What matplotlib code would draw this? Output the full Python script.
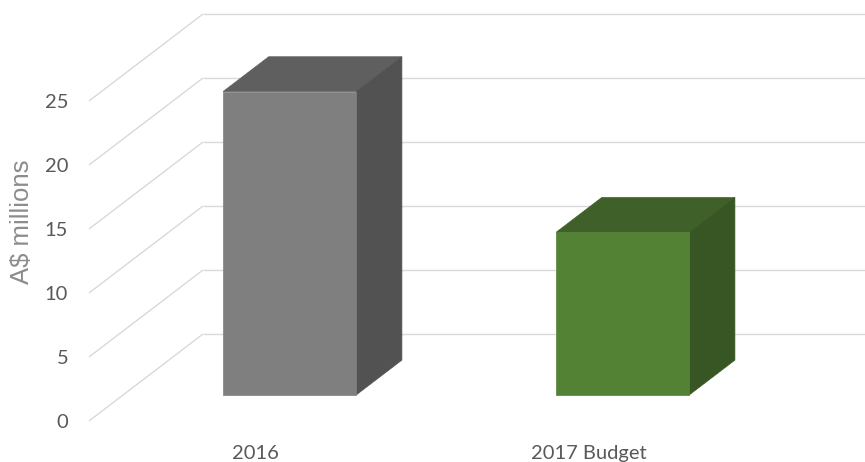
import matplotlib
matplotlib.use("Agg")
import matplotlib.pyplot as plt
from matplotlib.patches import Polygon

categories = ["2016", "2017 Budget"]
values = [23.7, 12.7]
yticks = [0, 5, 10, 15, 20, 25]
ylabel = "A$ millions"

front_colors = ["#7f7f7f", "#548235"]
top_colors = ["#5f5f5f", "#406029"]
side_colors = ["#525252", "#375623"]

W, H = 865, 462
fig = plt.figure(figsize=(W / 100, H / 100), dpi=100)
# front plane axes: x -0.5..1.5 -> px 89..755 ; y 0..25 -> px 421..101 (from top)
ax = fig.add_axes([89 / W, (H - 421) / H, 666 / W, 320 / H])
ax.set_xlim(-0.5, 1.5)
ax.set_ylim(0, 25)
for s in ax.spines.values():
    s.set_visible(False)

px_per_x = 666 / 2.0
px_per_y = 320 / 25.0
ddx = 114 / px_per_x   # full depth offset, x units
ddy = 87 / px_per_y    # full depth offset, y units

grid_c = "#d9d9d9"
xmin, xmax = -0.5, 1.5
for v in yticks:
    ax.plot([xmin, xmin + ddx], [v, v + ddy], color=grid_c, lw=1.0,
            clip_on=False, zorder=1, solid_capstyle="butt")
    ax.plot([xmin + ddx, xmax + ddx + 0.05], [v + ddy, v + ddy], color=grid_c,
            lw=1.0, clip_on=False, zorder=1, solid_capstyle="butt")

bw = 0.4
d0, d1 = 0.3, 0.7
for i, v in enumerate(values):
    x0 = i - bw / 2
    x1 = i + bw / 2
    fx0, fx1 = x0 + d0 * ddx, x1 + d0 * ddx
    fy0, fy1 = d0 * ddy, v + d0 * ddy
    bx0, bx1 = x0 + d1 * ddx, x1 + d1 * ddx
    by0, by1 = d1 * ddy, v + d1 * ddy
    top = Polygon([(fx0, fy1), (fx1, fy1), (bx1, by1), (bx0, by1)], closed=True,
                  facecolor=top_colors[i], edgecolor=top_colors[i], lw=0.5,
                  clip_on=False, zorder=3)
    side = Polygon([(fx1, fy0), (bx1, by0), (bx1, by1), (fx1, fy1)], closed=True,
                   facecolor=side_colors[i], edgecolor=side_colors[i], lw=0.5,
                   clip_on=False, zorder=3)
    front = Polygon([(fx0, fy0), (fx1, fy0), (fx1, fy1), (fx0, fy1)], closed=True,
                    facecolor=front_colors[i], edgecolor=front_colors[i], lw=0.5,
                    clip_on=False, zorder=4)
    for p in (top, side, front):
        ax.add_patch(p)

ax.set_yticks(yticks)
ax.set_yticklabels([str(t) for t in yticks], fontfamily="Lato", fontsize=14.5,
                   color="#595959")
ax.set_xticks(range(len(categories)))
ax.set_xticklabels(categories, fontfamily="Lato", fontsize=14.5, color="#595959")
ax.tick_params(axis="y", length=0, pad=15)
ax.tick_params(axis="x", length=0, pad=17)

fig.text(22 / W, 1 - 222 / H, ylabel, rotation=90, ha="center", va="center",
         fontfamily="Liberation Sans", fontsize=18.5, color="#8c8c8c")

fig.savefig("out.png", dpi=100)
